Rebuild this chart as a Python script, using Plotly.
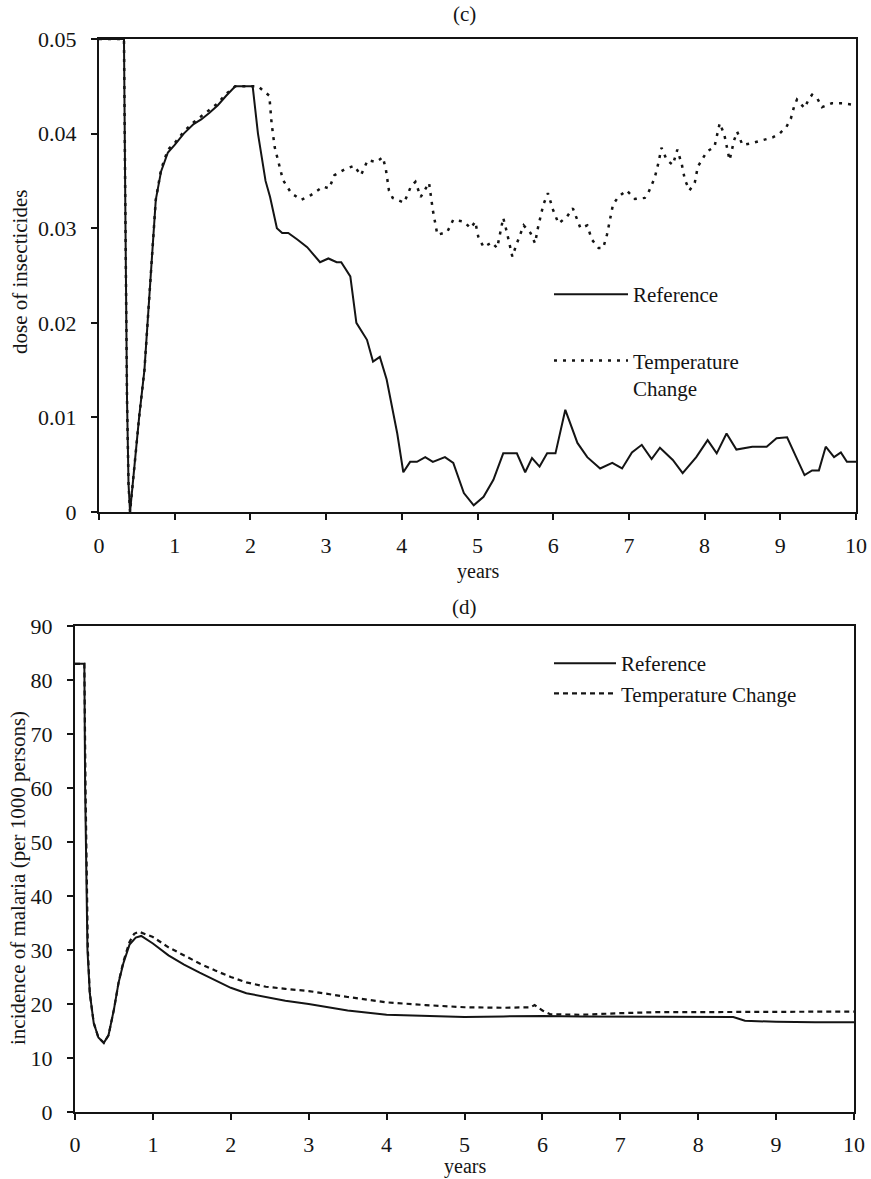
import plotly.graph_objects as go

# ---------------- data: panel (c) dose of insecticides ----------------
c_ref_x = [0, 0.33, 0.35, 0.37, 0.39, 0.41, 0.47, 0.53, 0.6, 0.65, 0.7, 0.75, 0.82, 0.91, 1.0, 1.12,
           1.25, 1.35, 1.46, 1.57, 1.68, 1.8, 1.95, 2.03, 2.1, 2.2, 2.26, 2.35, 2.42, 2.5, 2.62, 2.75,
           2.92, 3.03, 3.14, 3.2, 3.32, 3.4, 3.54, 3.62, 3.71, 3.8, 3.94, 4.02, 4.11, 4.2, 4.31, 4.41,
           4.57, 4.68, 4.82, 4.95, 5.08, 5.21, 5.34, 5.52, 5.63, 5.72, 5.82, 5.92, 6.03, 6.16, 6.32,
           6.45, 6.62, 6.78, 6.91, 7.04, 7.17, 7.3, 7.41, 7.58, 7.71, 7.89, 8.04, 8.16, 8.29, 8.42,
           8.63, 8.82, 8.95, 9.09, 9.21, 9.32, 9.42, 9.51, 9.6, 9.71, 9.8, 9.88, 10]
c_ref_y = [0.05, 0.05, 0.03, 0.012, 0.003, 0.0, 0.005, 0.01, 0.015, 0.021, 0.028, 0.033, 0.036, 0.038,
           0.0388, 0.040, 0.041, 0.0415, 0.0422, 0.043, 0.044, 0.045, 0.045, 0.045, 0.040, 0.035,
           0.0333, 0.030, 0.0295, 0.0295, 0.0288, 0.028, 0.0264, 0.0268, 0.0264, 0.0264, 0.0249,
           0.020, 0.0182, 0.0159, 0.0164, 0.014, 0.0083, 0.0042, 0.0053, 0.0053, 0.0058, 0.0053,
           0.0058, 0.0052, 0.002, 0.0007, 0.0016, 0.0034, 0.0062, 0.0062, 0.0042, 0.0057, 0.0048,
           0.0062, 0.0062, 0.0108, 0.0073, 0.0058, 0.0046, 0.0052, 0.0046, 0.0063, 0.0071, 0.0056,
           0.0068, 0.0055, 0.0041, 0.0058, 0.0076, 0.0062, 0.0083, 0.0066, 0.0069, 0.0069, 0.0078,
           0.0079, 0.0058, 0.0039, 0.0044, 0.0044, 0.0069, 0.0058, 0.0063, 0.0053, 0.0053]

c_tc_x = [0, 0.33, 0.35, 0.37, 0.39, 0.41, 0.47, 0.53, 0.6, 0.65, 0.7, 0.75, 0.82, 0.91, 1.0, 1.12,
          1.25, 1.35, 1.46, 1.57, 1.68, 1.8, 1.95, 2.1, 2.25, 2.28, 2.32, 2.36, 2.43, 2.54, 2.67, 2.8,
          2.96, 3.04, 3.11, 3.24, 3.37, 3.46, 3.55, 3.66, 3.75, 3.79, 3.83, 3.88, 4.03, 4.12, 4.18,
          4.25, 4.36, 4.41, 4.47, 4.6, 4.68, 4.82, 4.91, 4.97, 5.01, 5.08, 5.19, 5.26, 5.3, 5.34,
          5.39, 5.46, 5.52, 5.61, 5.7, 5.76, 5.8, 5.87, 5.93, 6.0, 6.07, 6.18, 6.26, 6.36, 6.45,
          6.51, 6.6, 6.66, 6.71, 6.75, 6.79, 6.86, 6.97, 7.08, 7.21, 7.26, 7.34, 7.39, 7.43, 7.5,
          7.58, 7.64, 7.7, 7.74, 7.8, 7.87, 7.91, 8.03, 8.13, 8.2, 8.26, 8.33, 8.39, 8.43, 8.5,
          8.63, 8.76, 8.9, 8.99, 9.08, 9.14, 9.18, 9.22, 9.32, 9.38, 9.42, 9.49, 9.55, 9.68, 9.82, 10]
c_tc_y = [0.05, 0.05, 0.03, 0.012, 0.003, 0.0, 0.005, 0.01, 0.015, 0.021, 0.028, 0.033, 0.0362, 0.0383,
          0.039, 0.0402, 0.0412, 0.0418, 0.0425, 0.0432, 0.0442, 0.045, 0.045, 0.045, 0.044, 0.0411,
          0.0386, 0.0372, 0.0351, 0.0337, 0.033, 0.0335, 0.0344, 0.0342, 0.0356, 0.0362, 0.0366,
          0.0356, 0.0372, 0.037, 0.0375, 0.0362, 0.034, 0.0332, 0.0327, 0.0344, 0.0349, 0.0333,
          0.0348, 0.0319, 0.0293, 0.0296, 0.0309, 0.0307, 0.030, 0.0307, 0.0291, 0.028, 0.0285,
          0.0279, 0.0295, 0.0311, 0.0295, 0.027, 0.0284, 0.0303, 0.0295, 0.0284, 0.0301, 0.0325,
          0.0337, 0.0319, 0.0305, 0.0312, 0.0321, 0.030, 0.0303, 0.0288, 0.0279, 0.0279, 0.0293,
          0.0309, 0.0325, 0.0333, 0.034, 0.0331, 0.0332, 0.0338, 0.0353, 0.0369, 0.0385, 0.0372,
          0.0367, 0.0383, 0.0367, 0.0351, 0.034, 0.0348, 0.0365, 0.0381, 0.0386, 0.0411, 0.0399,
          0.0372, 0.0393, 0.0402, 0.0388, 0.039, 0.0393, 0.0396, 0.040, 0.0407, 0.0416, 0.0428,
          0.0436, 0.0427, 0.0437, 0.0441, 0.0437, 0.0428, 0.0432, 0.0432, 0.043]

# ---------------- data: panel (d) incidence of malaria ----------------
d_ref_x = [0, 0.12, 0.13, 0.145, 0.16, 0.19, 0.24, 0.3, 0.37, 0.43, 0.5, 0.56, 0.62, 0.7, 0.78, 0.85,
           1.0, 1.2, 1.4, 1.6, 1.8, 2.0, 2.2, 2.45, 2.7, 3.0, 3.5, 4.0, 4.5, 5.0, 5.5, 6.0, 6.5, 7.0,
           7.5, 8.0, 8.45, 8.6, 9.0, 9.5, 10]
d_ref_y = [83, 83, 60, 40, 30, 22, 16.5, 13.8, 12.8, 14.2, 19, 24, 27.5, 31, 32.3, 32.6,
           31.2, 29, 27.3, 25.8, 24.4, 23, 22, 21.3, 20.6, 20, 18.8, 18.0, 17.8, 17.6, 17.7, 17.8,
           17.7, 17.7, 17.7, 17.6, 17.6, 16.9, 16.7, 16.6, 16.6]

d_tc_x = [0, 0.12, 0.135, 0.15, 0.165, 0.19, 0.24, 0.3, 0.37, 0.43, 0.5, 0.56, 0.62, 0.7, 0.76, 0.82,
          1.0, 1.2, 1.4, 1.6, 1.8, 2.0, 2.2, 2.45, 2.7, 3.0, 3.5, 4.0, 4.5, 5.0, 5.5, 5.85, 5.9, 6.0,
          6.1, 6.5, 7.0, 7.5, 8.0, 8.5, 9.0, 9.5, 10]
d_tc_y = [83, 83, 60, 40, 30, 22, 16.5, 13.8, 12.8, 14.2, 19, 24, 27.8, 31.5, 33, 33.4,
          32.4, 30.5, 29, 27.5, 26.2, 25, 24, 23.2, 22.8, 22.4, 21.3, 20.3, 19.8, 19.4, 19.3, 19.4,
          19.8, 18.8, 18.1, 18.0, 18.3, 18.5, 18.5, 18.5, 18.5, 18.5, 18.6]

x_ticks = list(range(0, 11))
c_ticks = [0, 0.01, 0.02, 0.03, 0.04, 0.05]
c_ticklabels = ["0", "0.01", "0.02", "0.03", "0.04", "0.05"]
d_ticks = list(range(0, 100, 10))

# ---------------- layout helpers ----------------
W, H = 871, 1179
FONT = "Liberation Serif, Times New Roman, serif"
INK = "#141414"
TICK_SIZE = 22
TEXT_SIZE = 21

def px_x(p):
    return p / W

def px_y(p):
    return 1 - p / H

fig = go.Figure()

fig.add_trace(go.Scatter(x=c_ref_x, y=c_ref_y, mode="lines", name="Reference",
                         line=dict(color=INK, width=2), xaxis="x", yaxis="y",
                         legend="legend", legendgroup="c1"))
fig.add_trace(go.Scatter(x=c_tc_x, y=c_tc_y, mode="lines", name="Temperature<br>Change",
                         line=dict(color=INK, width=2.5, dash="3px,6px"), xaxis="x", yaxis="y",
                         legend="legend", legendgroup="c2"))
fig.add_trace(go.Scatter(x=d_ref_x, y=d_ref_y, mode="lines", name="Reference",
                         line=dict(color=INK, width=2), xaxis="x2", yaxis="y2",
                         legend="legend2"))
fig.add_trace(go.Scatter(x=d_tc_x, y=d_tc_y, mode="lines", name="Temperature Change",
                         line=dict(color=INK, width=2.2, dash="5px,4px"), xaxis="x2", yaxis="y2",
                         legend="legend2"))

axis_common = dict(showgrid=False, zeroline=False, showline=True, linecolor=INK, linewidth=2,
                   mirror=True, ticks="outside", ticklen=6, tickwidth=1.5, tickcolor=INK,
                   tickfont=dict(family=FONT, size=TICK_SIZE, color=INK), automargin=False)

fig.update_layout(
    width=W, height=H, autosize=False,
    margin=dict(l=0, r=0, t=0, b=0),
    paper_bgcolor="white", plot_bgcolor="white",
    font=dict(family=FONT, size=TEXT_SIZE, color=INK),
    xaxis=dict(domain=[px_x(99), px_x(856)], anchor="y", range=[0, 10],
               tickvals=x_ticks, ticklabelstandoff=7, **axis_common),
    yaxis=dict(domain=[px_y(512), px_y(39)], anchor="x", range=[0, 0.05],
               tickvals=c_ticks, ticktext=c_ticklabels, ticklabelstandoff=10, **axis_common),
    xaxis2=dict(domain=[px_x(75), px_x(854)], anchor="y2", range=[0, 10],
                tickvals=x_ticks, ticklabelstandoff=6, **axis_common),
    yaxis2=dict(domain=[px_y(1112), px_y(626)], anchor="x2", range=[0, 90],
                tickvals=d_ticks, ticklabelstandoff=10, **axis_common),
    legend=dict(x=px_x(549), y=px_y(274), xanchor="left", yanchor="top",
                bgcolor="rgba(0,0,0,0)", borderwidth=0, valign="top",
                tracegroupgap=36, itemwidth=74,
                font=dict(family=FONT, size=TEXT_SIZE, color=INK)),
    legend2=dict(x=px_x(549), y=px_y(643), xanchor="left", yanchor="top",
                 bgcolor="rgba(0,0,0,0)", borderwidth=0, itemwidth=62,
                 font=dict(family=FONT, size=TEXT_SIZE, color=INK)),
    showlegend=True,
)

def note(text, x, y, xref="paper", angle=0, size=TEXT_SIZE):
    return dict(text=text, x=x, y=y, xref=xref, yref="paper", showarrow=False,
                xanchor="center", yanchor="middle", textangle=angle,
                font=dict(family=FONT, size=size, color=INK))

annotations = [
    note("(c)", px_x(465), px_y(14)),
    note("(d)", px_x(465), px_y(607)),
    note("years", 5, px_y(571), xref="x", size=20),
    note("years", 5, px_y(1166), xref="x2", size=20),
    note("dose of insecticides", px_x(20), px_y(272), angle=-90),
    note("incidence of malaria (per 1000 persons)", px_x(18), px_y(878), angle=-90),
]
fig.update_layout(annotations=annotations)

fig.write_html("out.html")
